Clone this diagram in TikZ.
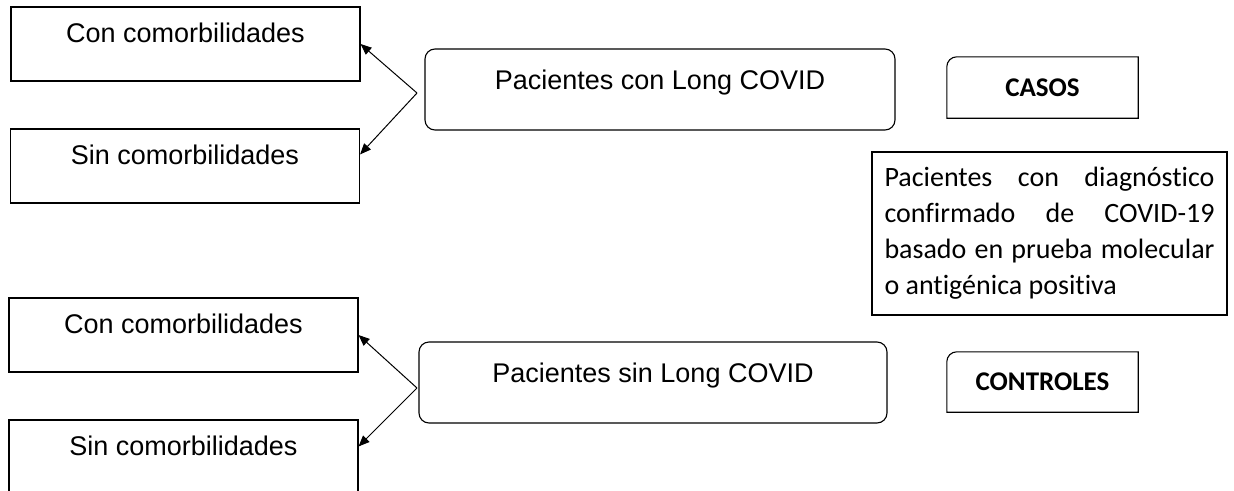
\documentclass[tikz,border=0pt]{standalone}
\usepackage{fontspec}
\setmainfont{Liberation Sans}
\newfontfamily\calibri[Ligatures={NoCommon}]{Carlito}
\usetikzlibrary{arrows.meta}

\begin{document}
\begin{tikzpicture}[x=1pt,y=-1pt,
        sidebox/.style={draw,line width=1.1pt,inner sep=4pt,minimum width=349pt,minimum height=74pt,
            font=\fontsize{27}{31}\selectfont,text height=20pt,text depth=23pt},
        groupbox/.style={draw,line width=1.1pt,inner sep=4pt,rounded corners=10pt,minimum height=81pt,
            font=\fontsize{27}{31}\selectfont,text height=20pt,text depth=20pt},
        tagbox/.style={inner sep=4pt,minimum width=191pt,minimum height=61pt,
            font=\calibri\bfseries\fontsize{27}{33}\selectfont},
        notebox/.style={draw,line width=1.1pt,inner sep=4pt,minimum width=355pt,minimum height=163pt,
            text width=330pt,align=justify,font=\calibri\fontsize{28}{36}\selectfont},
        link/.style={-{Triangle[length=11pt,width=9pt]},line width=1pt}]
    \useasboundingbox (0,0) rectangle (1234,490);
    \clip (0,0) rectangle (1234,490);

        % casos
        \node[sidebox] (con1) at (185.5,44) {Con comorbilidades};
        \node[sidebox] (sin1) at (185,166) {Sin comorbilidades};
        \node[groupbox,minimum width=470pt] (long) at (660,89.5) {Pacientes con Long COVID};
        \coordinate (j1) at (417,93);
        \draw[link] (j1) -- (con1.east);
        \draw[link] (j1) -- ([yshift=-26pt]sin1.north east);

        % controles
        \node[sidebox] (con2) at (183.5,335) {Con comorbilidades};
        \node[sidebox] (sin2) at (183.5,457) {Sin comorbilidades};
        \node[groupbox,minimum width=468pt] (nolong) at (653,382.5) {Pacientes sin Long COVID};
        \coordinate (j2) at (417,388);
        \draw[link] (j2) -- (con2.east);
        \draw[link] (j2) -- ([yshift=-27pt]sin2.north east);

        % etiquetas
        \node[tagbox] (casos) at (1042.5,87.5) {CASOS};
        \draw[line width=1.1pt] (casos.south west) [rounded corners=10pt] -- (casos.north west)
            [sharp corners] -- (casos.north east) -- (casos.south east) -- cycle;
        \node[tagbox,minimum height=60pt] (controles) at (1042.5,382) {CONTROLES};
        \draw[line width=1.1pt] (controles.south west) [rounded corners=10pt] -- (controles.north west)
            [sharp corners] -- (controles.north east) -- (controles.south east) -- cycle;
        \node[notebox] (nota) at (1049.5,233.5) {\tolerance=10000 Pacientes con diagnóstico\linebreak
            confirmado de COVID-19\linebreak basado en prueba molecular\linebreak o antigénica positiva};
\end{tikzpicture}
\end{document}
